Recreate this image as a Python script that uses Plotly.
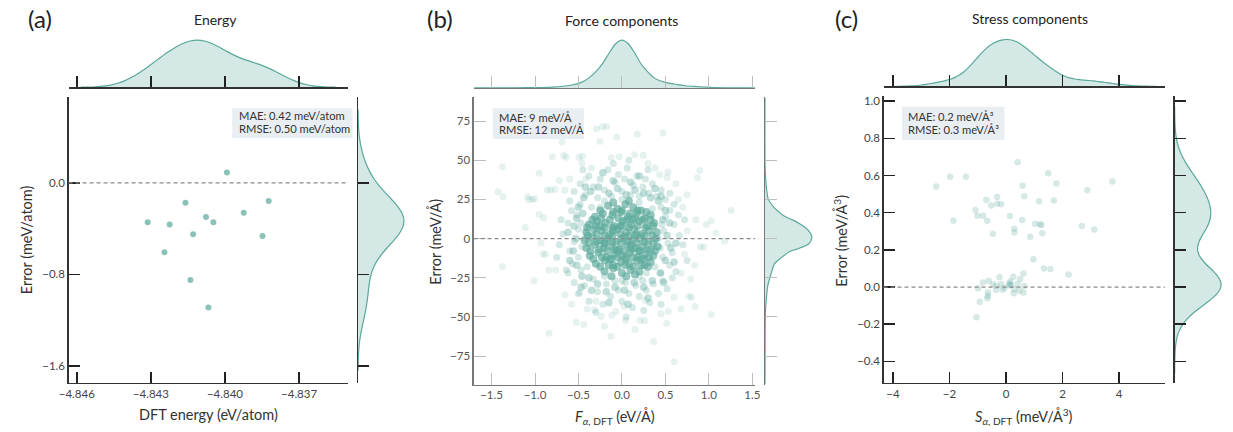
import numpy as np
import plotly.graph_objects as go

W, H = 1233, 432
TEAL = '#5aa89a'
FILL = 'rgba(90,168,154,0.26)'
FONT = 'Lato, "Open Sans", sans-serif'

# ---------------- data ----------------
# (a) energy
energy_dft = [-4.83992, -4.84160, -4.83823, -4.83924, -4.84077, -4.84047, -4.84313,
              -4.84224, -4.84129, -4.83848, -4.84245, -4.84140, -4.84067]
energy_err = [0.090, -0.174, -0.159, -0.261, -0.299, -0.345, -0.345,
              -0.365, -0.449, -0.464, -0.606, -0.849, -1.090]

# (b) force components: sparse outer points
force_outer_f = [-1.376, -1.426, -1.366, -1.376, -1.112, -0.953, -1.085, -1.006, -1.009, -0.839,
                 -0.688, -0.80, -0.642, -0.494, -0.46, -0.453, -0.29, -0.222, -0.176, -0.252,
                 -0.059, 0.176, 0.472, -0.123, -0.032, 0.146, 0.244, 0.434, 0.528, 0.517,
                 0.896, 0.869, 1.256, 1.028, 0.97, 1.083, 1.18, 0.9, 0.94, 0.837,
                 0.79, 0.77, 0.8, 0.84, 1.028, 0.6, 0.534, 0.515, 0.364, 0.6,
                 -0.127, -0.524, -0.437, -0.656, -0.485, -0.315, -0.24, -0.3, -0.07, -0.116,
                 0.025, 0.04, 0.21, 0.26, 0.27, -0.843, -0.763, -0.88, -0.9, -0.77,
                 -0.657, -0.72, -0.86, -0.82, -0.95, -0.93, -0.91, -1.07, -1.03, -0.67,
                 0.7, 0.75, 0.85, 0.72, 0.68, 0.65, 0.75, -0.35, -0.42, 0.3,
                 0.38, -0.6, 0.62, -0.58, -0.4, 0.45, 0.68, -0.2, 0.15]
force_outer_e = [45.8, 29.9, 26.7, -17.8, 7.0, 41.7, 26.7, 25.4, -26.9, -60.4,
                 61.7, 52.3, 51.9, 51.9, 48.3, 52.5, 70.1, 71.4, 71.6, 62.1,
                 64.8, 66.7, 67.4, 51.7, 52.3, 53.6, 53.2, 40.7, 42.6, 39.0,
                 43.4, 38.8, 18.0, 11.2, 9.0, 3.6, -1.7, -5.3, -5.3, -17.0,
                 -26.0, -37.0, -37.5, -43.4, -48.5, -37.5, -46.5, -54.0, -65.8, -78.6,
                 -62.3, -53.4, -54.9, -35.9, -34.8, -45.5, -49.8, -40.0, -46.6, -48.9,
                 -43.4, -52.3, -52.3, -52.3, -39.6, -20.1, -20.1, -10.0, 13.3, 31.4,
                 30.7, 37.1, 31.0, 31.0, 15.4, -2.8, -9.8, 25.0, 25.0, 53.0,
                 20.0, 5.0, 12.0, -10.0, -22.0, 25.0, 28.0, 45.0, 38.0, 48.0,
                 45.0, 38.0, 35.0, -42.0, -45.0, -48.0, -45.0, -56.0, -58.0]
# (b) outer halo of medium density
force_mid_f = [-0.55, -0.48, -0.42, -0.38, -0.33, -0.28, -0.25, -0.2, -0.16, -0.12,
               -0.08, -0.04, 0.0, 0.03, 0.06, 0.1, 0.13, 0.17, 0.2, 0.24,
               0.27, 0.31, 0.35, 0.4, 0.45, 0.5, 0.55, -0.6, -0.45, -0.1, 0.08, 0.3, 0.6,
               -0.55, -0.5, -0.43, -0.38, -0.33, -0.28, -0.22, -0.18, -0.13, -0.08,
               -0.04, 0.0, 0.04, 0.08, 0.12, 0.16, 0.2, 0.24, 0.28, 0.32,
               0.36, 0.42, 0.47, 0.52, 0.58, -0.62, -0.3, 0.05, 0.25, 0.45,
               -0.48, -0.52, -0.58, -0.62, -0.5, -0.68, -0.55, -0.6, -0.72, -0.5,
               -0.57, -0.64, -0.47, -0.7, -0.75, -0.46, -0.47,
               0.45, 0.5, 0.55, 0.6, 0.48, 0.66, 0.53, 0.58, 0.7, 0.47,
               0.55, 0.62, 0.45, 0.72, 0.75, 0.44, 0.46, 0.65,
               -0.35, -0.2, 0.0, 0.2, 0.35, -0.4, -0.2, 0.0, 0.2, 0.38, -0.42, 0.42, -0.25, 0.28]
force_mid_e = [30, 35, 28, 40, 33, 26, 38, 31, 44, 27,
               36, 41, 30, 38, 45, 28, 34, 40, 27, 33,
               38, 29, 35, 27, 31, 25, 29, 24, 44, 48, 50, 44, 22,
               -28, -35, -30, -40, -26, -34, -42, -29, -37, -27,
               -33, -40, -28, -35, -44, -30, -37, -27, -33, -41,
               -29, -35, -27, -32, -25, -22, -47, -50, -46, -42,
               22, 15, 18, 10, 6, 3, -2, -8, -4, -12,
               -16, -20, -20, 12, -12, -5, 10,
               20, 14, 18, 9, 5, 2, -3, -9, -4, -12,
               -17, -21, -22, 12, -14, -6, 9, 15,
               20, 24, 25, 23, 19, -18, -24, -27, -24, -18, 0, 0, 20, -22]
# (b) inner halo
force_ring_f = [-0.5, -0.44, -0.36, -0.27, -0.15, -0.05, 0.05, 0.15, 0.25, 0.33,
                0.42, 0.5, 0.55, 0.52, 0.56, 0.5, 0.44, 0.35, 0.25, 0.14,
                0.03, -0.08, -0.18, -0.28, -0.38, -0.46, -0.52, -0.56, -0.53, -0.55,
                -0.52, -0.45, 0.47, -0.1, 0.1, 0.38, -0.35, 0.3, -0.15, 0.07,
                -0.62, 0.62, 0.6, -0.6, 0.48, -0.47, 0.45, -0.42, 0.2, -0.22]
force_ring_e = [20, 26, 30, 33, 29, 32, 28, 31, 29, 26,
                24, 18, 10, 2, -6, -14, -22, -27, -31, -28,
                -33, -31, -34, -29, -25, -24, -17, -8, 0, 8,
                13, 16, 12, 37, 36, 32, -33, -38, -41, -42,
                4, -3, -15, -14, -28, -31, 27, 33, 40, 42]
# (b) dense core
force_core_f = [-0.16, -0.05, 0.04, 0.13, 0.22,
                -0.31, -0.22, -0.11, -0.01, 0.07, 0.17, 0.26, 0.33,
                -0.38, -0.29, -0.19, -0.09, 0.01, 0.1, 0.2, 0.29, 0.37,
                -0.41, -0.32, -0.23, -0.14, -0.05, 0.05, 0.14, 0.23, 0.31, 0.4,
                -0.43, -0.34, -0.25, -0.16, -0.07, 0.03, 0.12, 0.21, 0.3, 0.39,
                -0.41, -0.31, -0.21, -0.12, -0.03, 0.06, 0.15, 0.24, 0.33, 0.41,
                -0.37, -0.27, -0.18, -0.09, 0.0, 0.09, 0.18, 0.27, 0.36,
                -0.3, -0.2, -0.1, -0.01, 0.08, 0.17, 0.26, 0.33,
                -0.2, -0.1, 0.0, 0.1, 0.2,
                -0.1, 0.0, 0.1, 0.05, -0.05, 0.15, -0.2, 0.2, 0.0, -0.12, 0.12, -0.25, 0.25,
                -0.25, -0.1, 0.0, 0.09, 0.18, 0.28,
                -0.34, -0.24, -0.14, -0.04, 0.05, 0.15, 0.24, 0.33,
                -0.4, -0.3, -0.2, -0.11, -0.02, 0.08, 0.18, 0.27, 0.36,
                -0.39, -0.29, -0.2, -0.11, -0.02, 0.08, 0.17, 0.26, 0.35,
                -0.38, -0.29, -0.2, -0.11, -0.01, 0.08, 0.17, 0.26, 0.36,
                -0.36, -0.26, -0.17, -0.08, 0.02, 0.11, 0.2, 0.29, 0.38,
                -0.33, -0.23, -0.14, -0.05, 0.04, 0.13, 0.22, 0.31,
                -0.25, -0.15, -0.05, 0.04, 0.13, 0.22, 0.3,
                -0.12, 0.05, 0.15, -0.1, 0.08]
force_core_e = [21, 19, 22, 20, 18,
                14, 16, 15, 17, 14, 16, 13, 15,
                9, 11, 10, 8, 11, 9, 11, 8, 10,
                4, 6, 5, 3, 6, 4, 6, 3, 5, 4,
                -1, 1, -1, 0, -2, 1, -1, 0, -2, 0,
                -6, -4, -6, -5, -7, -4, -6, -5, -7, -5,
                -11, -9, -12, -10, -11, -9, -12, -10, -11,
                -16, -14, -17, -15, -16, -14, -17, -15,
                -21, -19, -22, -20, -21,
                5, 0, -5, -12, -8, 2, -3, -8, 8, -13, 12, 8, -13,
                18, 17, 18, 16, 18, 17,
                12, 13, 12, 13, 12, 13, 12, 12,
                7, 8, 7, 7, 8, 7, 8, 7, 8,
                2, 3, 2, 2, 3, 2, 3, 2, 2,
                -3, -2, -3, -2, -3, -2, -3, -2, -3,
                -8, -7, -8, -7, -8, -7, -8, -7, -8,
                -13, -12, -13, -12, -13, -12, -13, -12,
                -18, -17, -18, -17, -18, -17, -18,
                -24, -24, -23, 23, 24]
# (b) marginal densities (relative height)
force_top_grid = [-1.7, -1.3, -1.1, -0.98, -0.8, -0.68, -0.58, -0.49, -0.43, -0.38,
                  -0.3, -0.22, -0.15, -0.07, 0.0, 0.07, 0.15, 0.22, 0.3, 0.37,
                  0.43, 0.49, 0.57, 0.64, 0.73, 0.83, 1.06, 1.3, 1.53]
force_top_dens = [0, 0.001, 0.004, 0.007, 0.018, 0.034, 0.06, 0.10, 0.15, 0.21,
                  0.34, 0.52, 0.72, 0.93, 1.0, 0.93, 0.72, 0.50, 0.33, 0.21,
                  0.155, 0.12, 0.09, 0.07, 0.045, 0.03, 0.007, 0.002, 0]
force_err_grid = [-93, -60, -47, -38, -30, -22.5, -16.2, -13.4, -10.9, -8.1,
                  -6.7, -3.5, 0.8, 5.1, 9.3, 12.2, 14.6, 19.9, 25.2, 30,
                  40, 48.5, 90]
force_err_dens = [0, 0.003, 0.01, 0.03, 0.06, 0.13, 0.2, 0.3, 0.40, 0.54,
                  0.68, 0.93, 1.0, 0.93, 0.75, 0.57, 0.40, 0.19, 0.07, 0.04,
                  0.01, 0.0, 0]

# (c) stress components
stress_dft = [-2.468, -1.977, -1.418, -1.862, -1.082, -1.013, -0.814, -0.664, -0.699, -0.524,
              -0.314, -0.314, -0.175, -0.465, 0.14, 0.293, 0.293, 0.409, 0.583, 0.643,
              0.57, 0.852, 1.027, 1.2, 1.25, 1.282, 1.166, 1.491, 1.69, 1.782,
              2.678, 2.875, 3.12, 3.76,
              0.967, 1.34, 1.572, 2.212,
              -0.814, -0.616, -0.232, 0.257, 0.617, 0.5, -0.99, -0.465, -0.349, -0.175,
              -0.058, 0.117, 0.175, 0.409, 0.643, -0.349, -0.116, 0.293, 0.468, 0.618,
              -0.64, -0.64, -0.663, -0.93, -1.048, 0.269, 0.15, 0.12]
stress_err = [0.541, 0.593, 0.593, 0.357, 0.414, 0.384, 0.384, 0.357, 0.468, 0.439,
              0.484, 0.448, 0.445, 0.287, 0.382, 0.314, 0.293, 0.671, 0.545, 0.488,
              0.36, 0.271, 0.341, 0.338, 0.334, 0.289, 0.462, 0.612, 0.466, 0.557,
              0.329, 0.521, 0.309, 0.568,
              0.15, 0.1, 0.097, 0.068,
              0.025, 0.034, 0.052, 0.055, 0.073, 0.043, -0.007, 0.016, 0.007, 0.016,
              -0.002, 0.019, 0.011, 0.016, 0.005, -0.014, -0.014, -0.011, -0.02, -0.029,
              -0.029, -0.047, -0.061, -0.079, -0.163, -0.034, 0.03, 0.008]

# ticks
energy_xticks = [-4.846, -4.843, -4.840, -4.837]
energy_xlabels = ['−4.846', '−4.843', '−4.840', '−4.837']
energy_yticks = [0.0, -0.8, -1.6]
energy_ylabels = ['0.0', '−0.8', '−1.6']
force_xticks = [-1.5, -1.0, -0.5, 0.0, 0.5, 1.0, 1.5]
force_xlabels = ['−1.5', '−1.0', '−0.5', '0.0', '0.5', '1.0', '1.5']
force_yticks = [-75, -50, -25, 0, 25, 50, 75]
force_ylabels = ['−75', '−50', '−25', '0', '25', '50', '75']
stress_xticks = [-4, -2, 0, 2, 4]
stress_xlabels = ['−4', '−2', '0', '2', '4']
stress_yticks = [-0.4, -0.2, 0.0, 0.2, 0.4, 0.6, 0.8, 1.0]
stress_ylabels = ['−0.4', '−0.2', '0.0', '0.2', '0.4', '0.6', '0.8', '1.0']

# ---------------- helpers ----------------
def xd(l, r):
    return [l / W, r / W]


def yd(t, b):
    return [1 - b / H, 1 - t / H]


def axkey(letter, n):
    return f'{letter}axis' if n == 1 else f'{letter}axis{n}'


def axref(letter, n):
    return letter if n == 1 else f'{letter}{n}'


def scott_bw(vals):
    v = np.asarray(vals, float)
    return float(np.std(v, ddof=1) * len(v) ** (-0.2))


fig = go.Figure()
layout = {}
shapes = []
annotations = []


def text(x, y, s, size, color='#333', anchor='center', angle=0):
    annotations.append(dict(x=x / W, y=1 - y / H, xref='paper', yref='paper', text=s,
                            showarrow=False, xanchor=anchor, yanchor='middle', textangle=angle,
                            font=dict(size=size, color=color, family=FONT)))


def panel(k, P):
    m, t, r = 3 * k + 1, 3 * k + 2, 3 * k + 3
    l_, r_, t_, b_ = P['main']
    common = dict(showline=True, linecolor=P['line_col'], linewidth=P['lw'], ticks='inside',
                  ticklen=P['ticklen'], tickwidth=P['tickwidth'], tickcolor=P['tick_col'],
                  showgrid=False, zeroline=False, fixedrange=True,
                  tickfont=dict(size=11.5, color=P['label_col'], family=FONT))
    layout[axkey('x', m)] = dict(domain=xd(l_, r_), range=P['xr'], anchor=axref('y', m),
                                 tickvals=P['xt'], ticktext=P['xtt'], **common)
    layout[axkey('y', m)] = dict(domain=yd(t_, b_), range=P['yr'], anchor=axref('x', m),
                                 tickvals=P['yt'], ticktext=P['ytt'], **common)
    base, peak = P['top']
    hh = base - peak
    layout[axkey('x', t)] = dict(domain=xd(l_, r_), range=P['xr'], anchor=axref('y', t),
                                 tickvals=P['xt'], showticklabels=False, **common)
    layout[axkey('y', t)] = dict(domain=yd(peak - 4, base), range=[0, (hh + 4) / hh],
                                 anchor=axref('x', t), visible=False, fixedrange=True)
    ax0, apk = P['right']
    ww = apk - ax0
    layout[axkey('x', r)] = dict(domain=xd(ax0, apk + 4), range=[0, (ww + 4) / ww],
                                 anchor=axref('y', r), visible=False, fixedrange=True)
    layout[axkey('y', r)] = dict(domain=yd(t_, b_), range=P['yr'], anchor=axref('x', r),
                                 side='left', tickvals=P['yt'], showticklabels=False, **common)
    shapes.append(dict(type='line', xref=f'{axref("x", m)} domain', x0=0, x1=1,
                       yref=axref('y', m), y0=0, y1=0,
                       line=dict(color='#8a8a8a', width=1.2, dash='4px,3px')))
    bx0, bx1, by0, by1 = P['box']
    shapes.append(dict(type='rect', xref='paper', yref='paper', x0=bx0 / W, x1=bx1 / W,
                       y0=1 - by1 / H, y1=1 - by0 / H, fillcolor='#e8eef2', line=dict(width=0)))
    for (s, yy) in P['box_text']:
        text(P['box_tx'], yy, s, 11.2, '#333', 'left')
    return axref('x', m), axref('y', m), axref('x', t), axref('y', t), axref('x', r), axref('y', r)


def add_violins(axes, xs, ys):
    xm, ym, xt, yt, xr_, yr_ = axes
    bwx = scott_bw(xs)
    bwy = scott_bw(ys)
    fig.add_trace(go.Violin(x=xs, y0=0, orientation='h', side='positive', width=2,
                            bandwidth=bwx, spanmode='manual',
                            span=[min(xs) - 3 * bwx, max(xs) + 3 * bwx],
                            line=dict(color=TEAL, width=1.2), fillcolor=FILL, points=False,
                            hoverinfo='skip', xaxis=xt, yaxis=yt, showlegend=False))
    fig.add_trace(go.Violin(y=ys, x0=0, orientation='v', side='positive', width=2,
                            bandwidth=bwy, spanmode='manual',
                            span=[min(ys) - 3 * bwy, max(ys) + 3 * bwy],
                            line=dict(color=TEAL, width=1.2), fillcolor=FILL, points=False,
                            hoverinfo='skip', xaxis=xr_, yaxis=yr_, showlegend=False))


dark = dict(line_col='#333', tick_col='#222', lw=1.3, ticklen=11, tickwidth=1.5, label_col='#444')
grey = dict(line_col='#777', tick_col='#bdbdbd', lw=1.1, ticklen=12, tickwidth=1.0, label_col='#555')

# ---- panel (a)
PA = dict(main=(59.3, 342.3, 95.7, 382.3), xr=[-4.846333, -4.835013], yr=[-1.745, 0.748],
          xt=energy_xticks, xtt=energy_xlabels, yt=energy_yticks, ytt=energy_ylabels,
          top=(85.7, 38.3), right=(352.3, 398.7),
          box=(225, 346.7, 106.7, 136.7), box_tx=229.3,
          box_text=[('MAE: 0.42 meV/atom', 114.3), ('RMSE: 0.50 meV/atom', 126.7)], **dark)
axA = panel(0, PA)
fig.add_trace(go.Scatter(x=energy_dft, y=energy_err, mode='markers',
                         marker=dict(color=TEAL, opacity=0.7, size=6, line=dict(width=0)),
                         xaxis=axA[0], yaxis=axA[1], hoverinfo='skip', showlegend=False))
add_violins(axA, energy_dft, energy_err)

# ---- panel (b)
PB = dict(main=(469.3, 754.3, 95.7, 384.3), xr=[-1.7065, 1.532], yr=[-93.2, 90.25],
          xt=force_xticks, xtt=force_xlabels, yt=force_yticks, ytt=force_ylabels,
          top=(86.3, 38.3), right=(764.3, 811.7),
          box=(488.7, 581, 106.7, 137.7), box_tx=492.7,
          box_text=[('MAE: 9 meV/Å', 116), ('RMSE: 12 meV/Å', 128.3)], **grey)
axB = panel(1, PB)
for fx, fe, op, sz in [(force_outer_f, force_outer_e, 0.15, 7), (force_mid_f, force_mid_e, 0.26, 7),
                       (force_ring_f, force_ring_e, 0.38, 7.5), (force_core_f, force_core_e, 0.66, 8)]:
    fig.add_trace(go.Scatter(x=fx, y=fe, mode='markers',
                             marker=dict(color=TEAL, opacity=op, size=sz, line=dict(width=0)),
                             xaxis=axB[0], yaxis=axB[1], hoverinfo='skip', showlegend=False))
fig.add_trace(go.Scatter(x=force_top_grid, y=force_top_dens, mode='lines', fill='tozeroy',
                         line=dict(color=TEAL, width=1.2, shape='spline', smoothing=0.8),
                         fillcolor=FILL, xaxis=axB[2], yaxis=axB[3], hoverinfo='skip',
                         showlegend=False))
fig.add_trace(go.Scatter(x=force_err_dens, y=force_err_grid, mode='lines', fill='tozerox',
                         line=dict(color=TEAL, width=1.2, shape='spline', smoothing=0.8),
                         fillcolor=FILL, xaxis=axB[4], yaxis=axB[5], hoverinfo='skip',
                         showlegend=False))

# ---- panel (c)
PC = dict(main=(884.3, 1169, 94.3, 382.7), xr=[-4.331, 5.612], yr=[-0.516, 1.0286],
          xt=stress_xticks, xtt=stress_xlabels, yt=stress_yticks, ytt=stress_ylabels,
          top=(84.7, 37.7), right=(1179, 1225.7),
          box=(903, 1006.7, 105.3, 138.7), box_tx=907.3,
          box_text=[('MAE: 0.2 meV/Å³', 115), ('RMSE: 0.3 meV/Å³', 128.3)], **dark)
axC = panel(2, PC)
fig.add_trace(go.Scatter(x=stress_dft, y=stress_err, mode='markers',
                         marker=dict(color=TEAL, opacity=0.25, size=6.5, line=dict(width=0)),
                         xaxis=axC[0], yaxis=axC[1], hoverinfo='skip', showlegend=False))
add_violins(axC, stress_dft, stress_err)

# ---- titles / labels
text(30, 17, '(a)', 24, '#222')
text(435, 17, '(b)', 24, '#222')
text(846.7, 17, '(c)', 24, '#222')
text(207.7, 18, 'Energy', 14, '#222')
text(618.7, 18.3, 'Force components', 14, '#222')
text(1033, 17, 'Stress components', 14, '#222')
text(200.5, 414.3, 'DFT energy (eV/atom)', 14.5)
text(17.5, 239, 'Error (meV/atom)', 14.5, angle=-90)
text(612.5, 417, '<i>F</i><sub><i>α</i>, DFT</sub> (eV/Å)', 14.5)
text(430, 241, 'Error (meV/Å)', 14.5, angle=-90)
text(1026.7, 416, '<i>S</i><sub><i>α</i>, DFT</sub> (meV/Å<sup>3</sup>)', 14.5)
text(841, 240, 'Error (meV/Å<sup>3</sup>)', 14.5, angle=-90)

fig.update_layout(width=W, height=H, margin=dict(l=0, r=0, t=0, b=0),
                  paper_bgcolor='white', plot_bgcolor='rgba(0,0,0,0)', showlegend=False,
                  font=dict(family=FONT, color='#333'), shapes=shapes, annotations=annotations,
                  hovermode=False, **layout)
fig.write_html('out.html', config={'displayModeBar': False, 'staticPlot': True},
               post_script="document.body.style.margin='0px';")
